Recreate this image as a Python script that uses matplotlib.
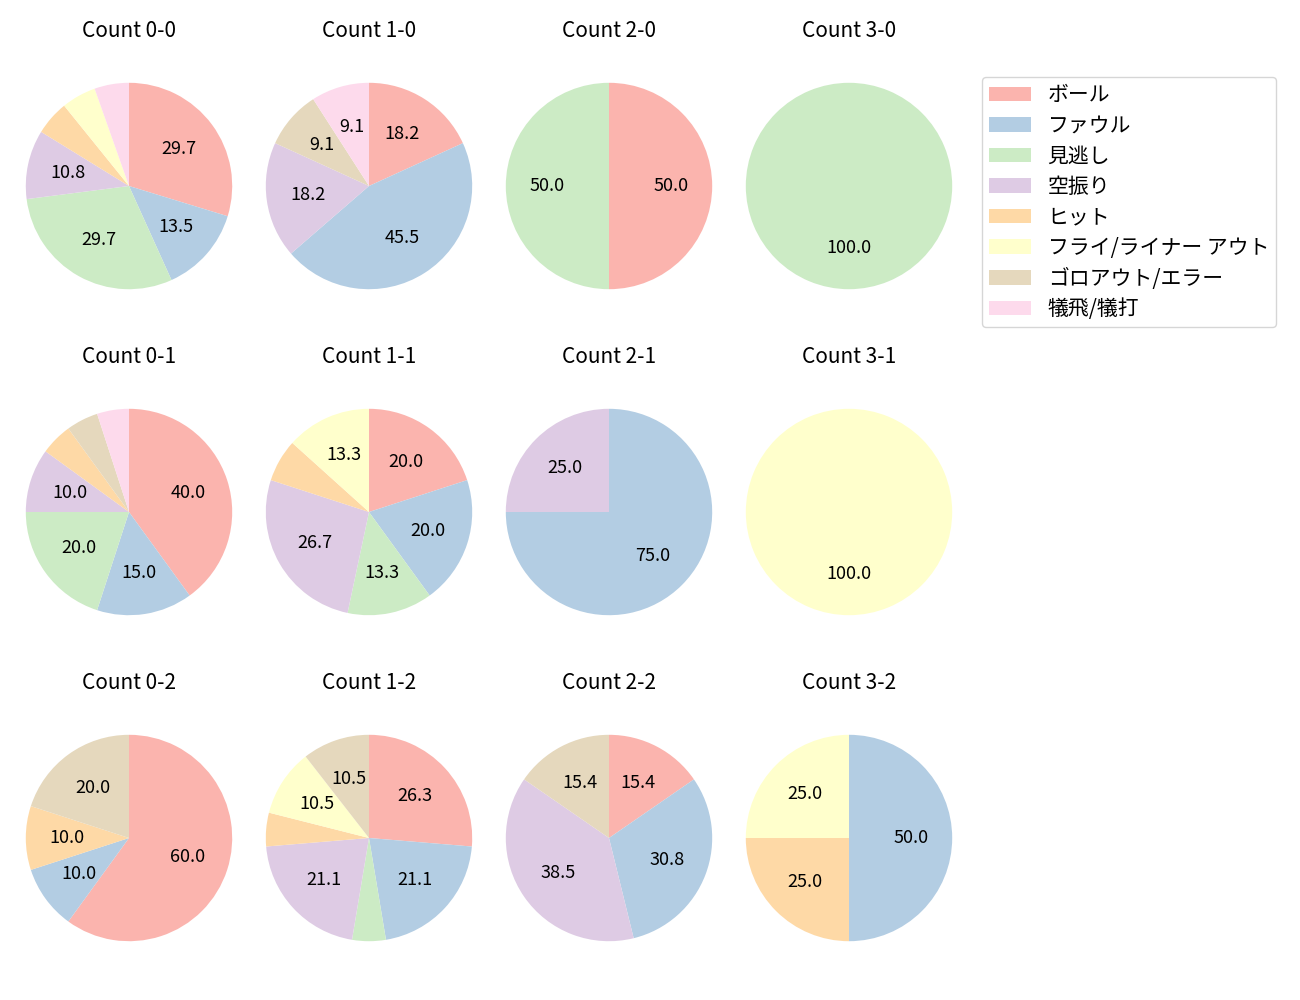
import matplotlib
matplotlib.use("Agg")
import matplotlib.pyplot as plt

plt.rcParams['font.family'] = ['Noto Sans CJK JP', 'DejaVu Sans']

categories = ["ボール", "ファウル", "見逃し", "空振り", "ヒット",
              "フライ/ライナー アウト", "ゴロアウト/エラー", "犠飛/犠打"]

# counts per category for each ball-strike count
counts = {
    "0-0": [11, 5, 11, 4, 2, 2, 0, 2],
    "1-0": [2, 5, 0, 2, 0, 0, 1, 1],
    "2-0": [1, 0, 1, 0, 0, 0, 0, 0],
    "3-0": [0, 0, 1, 0, 0, 0, 0, 0],
    "0-1": [8, 3, 4, 2, 1, 0, 1, 1],
    "1-1": [3, 3, 2, 4, 1, 2, 0, 0],
    "2-1": [0, 3, 0, 1, 0, 0, 0, 0],
    "3-1": [0, 0, 0, 0, 0, 1, 0, 0],
    "0-2": [6, 1, 0, 0, 1, 0, 2, 0],
    "1-2": [5, 4, 1, 4, 1, 2, 2, 0],
    "2-2": [2, 4, 0, 5, 0, 0, 2, 0],
    "3-2": [0, 2, 0, 0, 1, 1, 0, 0],
}

colors = plt.cm.Pastel1.colors[:8]

W, H = 1300, 1000
fig = plt.figure(figsize=(13, 10), dpi=100)

col_x = [129, 369, 609, 849]
row_y = [186, 512, 838]
size = 258

def fmt(p):
    return f"{p:.1f}" if p > 8 else ""

wedges_ref = None
for r, strikes in enumerate(range(3)):
    for c, balls in enumerate(range(4)):
        key = f"{balls}-{strikes}"
        vals = counts[key]
        cx, cy = col_x[c], row_y[r]
        ax = fig.add_axes([(cx - size / 2) / W, 1 - (cy + size / 2) / H, size / W, size / H])
        wedges, texts, autotexts = ax.pie(
            vals, colors=colors,
            startangle=90, counterclock=False, autopct=fmt,
            textprops={'fontsize': 13})
        if wedges_ref is None:
            wedges_ref = wedges
        ax.set_title(f"Count {key}", fontsize=15, pad=14.5)

fig.legend(wedges_ref, categories, loc='upper left',
           bbox_to_anchor=(982 / W, 1 - 77 / H), borderaxespad=0,
           fontsize=15, labelspacing=0.41, borderpad=0.35)

fig.savefig("out.png", dpi=100)
